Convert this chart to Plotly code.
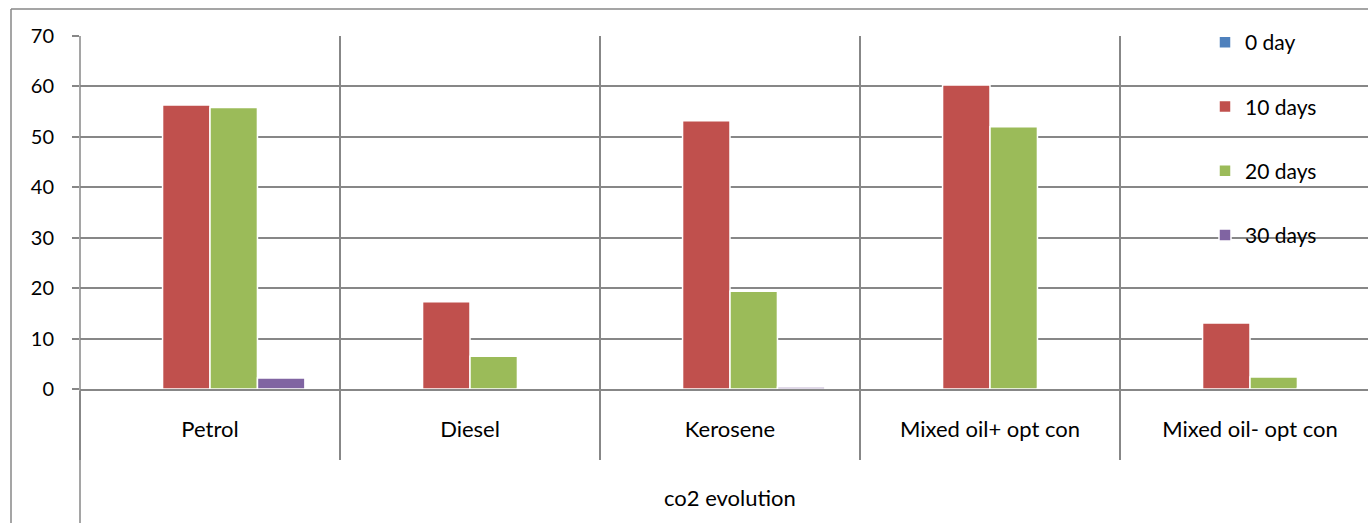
import plotly.graph_objects as go

categories = ["Petrol", "Diesel", "Kerosene", "Mixed oil+ opt con", "Mixed oil- opt con"]
series_names = ["0 day", "10 days", "20 days", "30 days"]
day0 = [0, 0, 0, 0, 0]
day10 = [56.3, 17.3, 53.2, 60.3, 13.1]
day20 = [55.8, 6.5, 19.4, 52.0, 2.4]
day30 = [2.2, 0.1, 0.4, 0.1, 0.2]
colors = ["#4F81BD", "#C0504D", "#9BBB59", "#8064A2"]
y_ticks = [0, 10, 20, 30, 40, 50, 60, 70]
x_title = "co2 evolution"

W, H = 1368, 523
L, T, B = 80, 36, 134
plot_w = W - L
plot_h = H - T - B
FONT = "Lato"
GRID = "#878787"

fig = go.Figure()
for name, vals, c in zip(series_names, [day0, day10, day20, day30], colors):
    fig.add_trace(go.Bar(
        x=categories, y=vals, name=name, legendgroup=name,
        marker=dict(color=c, line=dict(color="white", width=1.5)),
    ))

cat_px = 260
x_end = -0.5 + plot_w / cat_px

fig.update_layout(
    width=W, height=H,
    margin=dict(l=L, r=0, t=T, b=B),
    paper_bgcolor="white", plot_bgcolor="white",
    barmode="group", bargap=0.27, bargroupgap=0,
    font=dict(family=FONT, size=21, color="black"),
    showlegend=True,
    legend=dict(
        x=(1205 - L) / plot_w, y=1 + 14 / plot_h, xanchor="left", yanchor="top",
        bgcolor="rgba(0,0,0,0)", font=dict(size=21, family=FONT),
        tracegroupgap=34, itemwidth=30,
    ),
    xaxis=dict(
        type="category", range=[-0.5, x_end], tickson="boundaries",
        showgrid=True, gridcolor=GRID, gridwidth=1.5,
        ticks="outside", ticklen=69, tickcolor=GRID, tickwidth=1.5,
        showline=True, linecolor=GRID, linewidth=1.5,
        tickfont=dict(size=22, family=FONT), fixedrange=True,
        ticklabelstandoff=20,
    ),
    yaxis=dict(
        range=[0, 70], tickvals=y_ticks, showgrid=True, gridcolor=GRID, gridwidth=1.5,
        ticks="outside", ticklen=7, tickcolor=GRID, tickwidth=1.5,
        showline=False, zeroline=False, tickfont=dict(size=20, family=FONT),
        ticklabelstandoff=14, fixedrange=True,
    ),
)

fig.add_shape(type="line", xref="paper", yref="paper", x0=0, x1=0,
              y0=-(B) / plot_h, y1=1, line=dict(color=GRID, width=1.5))
bx = (11 - L) / plot_w
by = 1 + (T - 9) / plot_h
fig.add_shape(type="line", xref="paper", yref="paper", x0=bx, x1=1.05,
              y0=by, y1=by, line=dict(color=GRID, width=1.5))
fig.add_shape(type="line", xref="paper", yref="paper", x0=bx, x1=bx,
              y0=-B / plot_h, y1=by, line=dict(color=GRID, width=1.5))

fig.add_annotation(text=x_title, xref="paper", yref="paper",
                   x=(730 - L) / plot_w, y=-(497 - T - plot_h) / plot_h,
                   showarrow=False, font=dict(size=22, family=FONT),
                   xanchor="center", yanchor="middle")

fig.write_html("out.html", config={"displayModeBar": False},
               post_script="document.body.style.margin='0px';")
